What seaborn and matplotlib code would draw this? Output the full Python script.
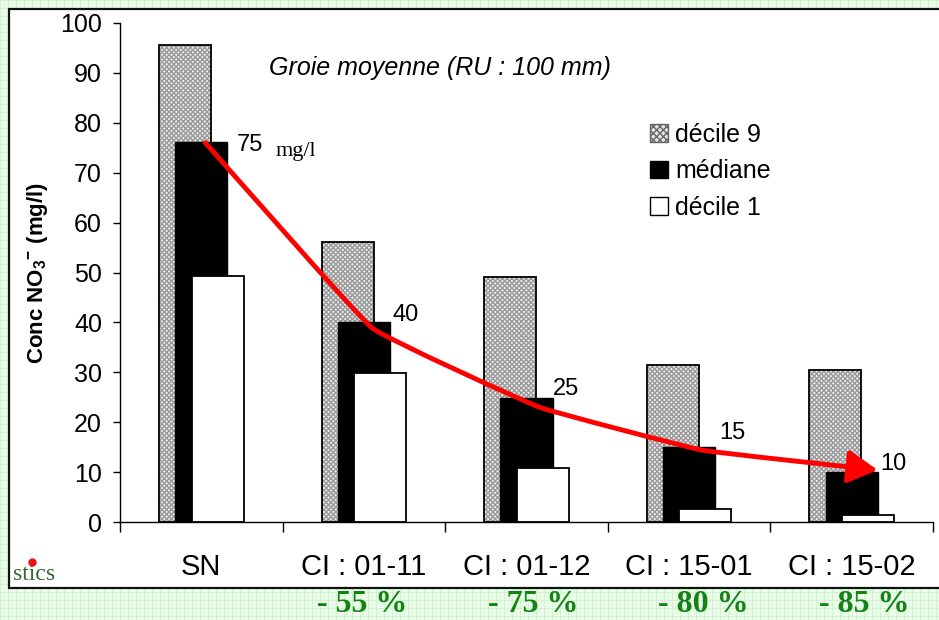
import numpy as np
import matplotlib
matplotlib.use('Agg')
import matplotlib.pyplot as plt
import seaborn as sns
from matplotlib.patches import Rectangle, FancyArrowPatch, Patch
from matplotlib.path import Path
from matplotlib.transforms import blended_transform_factory

# Données
categories = ['SN', 'CI : 01-11', 'CI : 01-12', 'CI : 15-01', 'CI : 15-02']
decile9 = [95.5, 56.1, 49.1, 31.4, 30.4]
mediane = [76.2, 40.1, 24.8, 15.0, 10.0]
decile1 = [49.3, 29.9, 10.8, 2.7, 1.4]
median_labels = ['75', '40', '25', '15', '10']
reductions = ['- 55 %', '- 75 %', '- 80 %', '- 85 %']
tendance = [76.0, 38.9, 23.0, 14.4, 10.4]

sns.set_theme(style='white')
plt.rcParams['font.family'] = ['Liberation Sans', 'DejaVu Sans']
plt.rcParams['mathtext.default'] = 'regular'
plt.rcParams['text.color'] = 'black'
plt.rcParams['axes.labelcolor'] = 'black'
plt.rcParams['xtick.color'] = 'black'
plt.rcParams['ytick.color'] = 'black'

W, H = 939, 620
fig = plt.figure(figsize=(W / 100, H / 100), dpi=100)
fig.patch.set_facecolor('#e8fce8')

# Fond quadrillé vert + cadre blanc
bg = fig.add_axes([0, 0, 1, 1], zorder=-5)
bg.set_xlim(0, W)
bg.set_ylim(H, 0)
bg.set_facecolor('#e8fce8')
for v in np.arange(0, W, 8):
    bg.axvline(v, color='#cdf2cd', lw=0.6, zorder=0)
for v in np.arange(0, H, 8):
    bg.axhline(v, color='#cdf2cd', lw=0.6, zorder=0)
bg.add_patch(Rectangle((9, 9), W + 20, 579, facecolor='white', edgecolor='#111111', lw=1.6, zorder=2))
bg.text(13, 585, 'stics', family='Liberation Serif', fontsize=17, color='#2e6b2e', ha='left', va='bottom', zorder=3)
bg.plot([32], [562], 'o', color='#ee1111', ms=5, zorder=4)
bg.axis('off')

ax = fig.add_axes([120 / W, 1 - 522 / H, (933 - 120) / W, (522 - 23) / H])
ax.set_facecolor('none')

pos = np.arange(len(categories))
bw = 0.32
off = 0.1

# décile 9 : trame grise puis contour noir
sns.barplot(x=pos - off, y=decile9, native_scale=True, orient='x', width=bw, color='#ececec',
            saturation=1, hatch='xxxxxxx', edgecolor='#9a9a9a', linewidth=0, errorbar=None, ax=ax)
sns.barplot(x=pos - off, y=decile9, native_scale=True, orient='x', width=bw, color='black',
            fill=False, linewidth=1.3, errorbar=None, ax=ax)
sns.barplot(x=pos, y=mediane, native_scale=True, orient='x', width=bw, color='black',
            saturation=1, edgecolor='black', linewidth=1, errorbar=None, ax=ax)
sns.barplot(x=pos + off, y=decile1, native_scale=True, orient='x', width=bw, color='white',
            saturation=1, edgecolor='black', linewidth=1.3, errorbar=None, ax=ax)

ax.set_xlim(-0.5, len(categories) - 0.5)
ax.set_ylim(0, 100)
ax.set_yticks(np.arange(0, 101, 10))
ax.set_xticks(np.arange(-0.5, len(categories), 1.0))
ax.set_xticklabels([])
ax.set_xticks(pos, minor=True)
ax.set_xticklabels(categories, minor=True, fontsize=21)
ax.tick_params(axis='x', which='major', length=7, width=1, color='black', direction='out', bottom=True)
ax.tick_params(axis='x', which='minor', length=0, pad=22, labelcolor='black')
ax.tick_params(axis='y', length=5, width=1, color='black', direction='out', left=True, labelsize=18, pad=8)
for s in ['top', 'right']:
    ax.spines[s].set_visible(False)
for s in ['left', 'bottom']:
    ax.spines[s].set_color('black')
    ax.spines[s].set_linewidth(1)
ax.set_xlabel('')
ax.set_ylabel('Conc NO$_3$$^{-}$ (mg/l)', fontsize=16, fontweight='bold')
ax.yaxis.set_label_coords(-0.086, 0.5)

# Courbe de tendance rouge avec flèche
dx = [0.025, 0.05, 0.08, 0.08, 0.16]
pts = np.column_stack([pos + np.array(dx), tendance])
verts = [tuple(pts[0])]
codes = [Path.MOVETO]
t = 0.25
for i in range(len(pts) - 1):
    p0 = pts[i - 1] if i > 0 else pts[i]
    p3 = pts[i + 2] if i + 2 < len(pts) else pts[i + 1]
    c1 = pts[i] + (pts[i + 1] - p0) / 6 * t
    c2 = pts[i + 1] - (p3 - pts[i]) / 6 * t
    verts += [tuple(c1), tuple(c2), tuple(pts[i + 1])]
    codes += [Path.CURVE4] * 3
arrow = FancyArrowPatch(path=Path(verts, codes), arrowstyle='-|>,head_length=0.9,head_width=0.5',
                        mutation_scale=20, color='#ff0000', lw=3.5, transform=ax.transData, zorder=5)
ax.add_patch(arrow)

lab_dx = [7, 2, 0, 3, 2]
lab_dy = [-2, 5, 7, 10, 6]
for i, lab in enumerate(median_labels):
    ax.annotate(lab, (pos[i] + bw / 2, mediane[i]), xytext=(lab_dx[i], lab_dy[i]), textcoords='offset points',
                fontsize=17, ha='left', va='center', color='black', zorder=6)
ax.annotate('mg/l', (pos[0] + bw / 2, mediane[0]), xytext=(35, -7), textcoords='offset points',
            fontsize=16, family='Liberation Serif', ha='left', va='center', color='black', zorder=6)

ax.text(440 / W, 1 - 68 / H, 'Groie moyenne (RU : 100 mm)', transform=fig.transFigure,
        fontsize=18, style='italic', ha='center', va='center', color='black')

handles = [Patch(facecolor='#e6e6e6', edgecolor='#666666', hatch='xxxxx', lw=1),
           Patch(facecolor='black', edgecolor='black'),
           Patch(facecolor='white', edgecolor='black', lw=1)]
ax.legend(handles, ['décile 9', 'médiane', 'décile 1'], loc='upper left', bbox_to_anchor=(0.64, 0.82),
          frameon=False, fontsize=18, handlelength=0.7, handleheight=0.7, handletextpad=0.3,
          labelspacing=0.5, borderaxespad=0, labelcolor='black')

trans = blended_transform_factory(ax.transData, fig.transFigure)
pct_dx = [-0.01, 0.04, 0.09, 0.08]
for i, txt in enumerate(reductions):
    ax.text(pos[i + 1] + pct_dx[i], 1 - 605 / H, txt, transform=trans, ha='center', va='center', fontsize=23,
            fontweight='bold', family='Liberation Serif', color='#148214', clip_on=False)

fig.savefig('out.png', dpi=100)
